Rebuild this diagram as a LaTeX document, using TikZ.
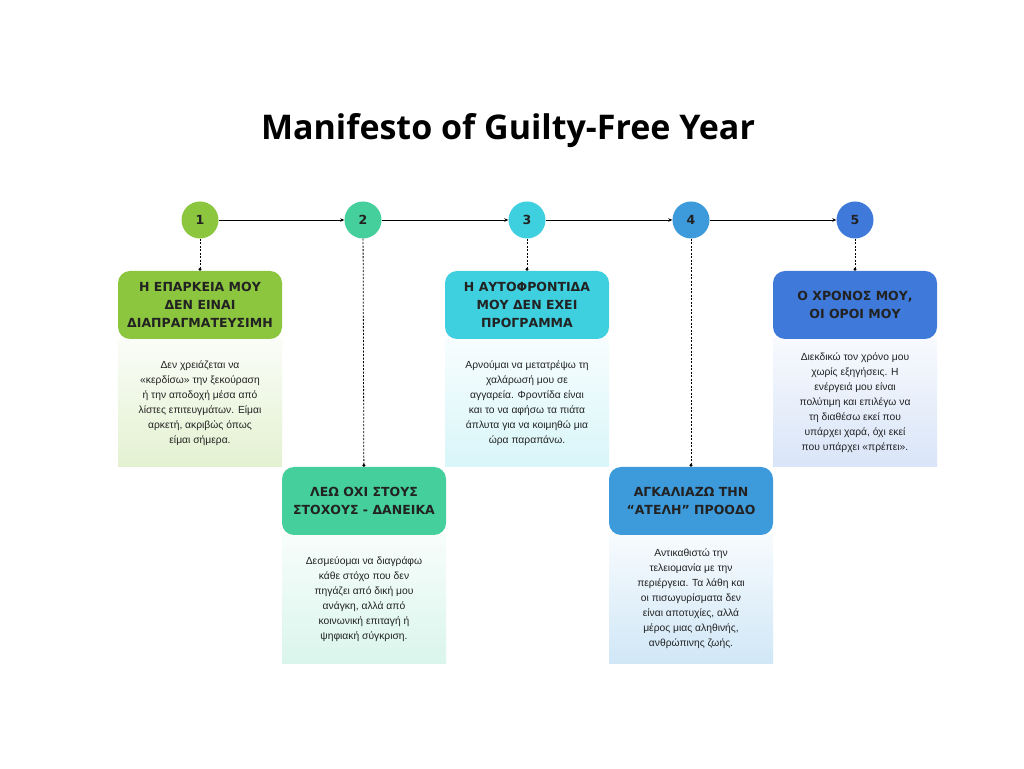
\documentclass[tikz,border=0pt]{standalone}
\usepackage{fontspec}
\usetikzlibrary{arrows.meta}
\setmainfont{Open Sans}
\newfontfamily\bodyfont{Liberation Sans}
\newfontfamily\headfont{DejaVu Sans}
\definecolor{greenA}{HTML}{8CC63F}
\definecolor{greenB}{HTML}{45CF9C}
\definecolor{cyanC}{HTML}{3FD0E0}
\definecolor{blueD}{HTML}{3D9BDC}
\definecolor{blueE}{HTML}{3F7ADB}
\definecolor{ink}{HTML}{222222}

\begin{document}
\begin{tikzpicture}[x=1pt, y=1pt,
    numdot/.style={circle, minimum size=37pt, inner sep=0pt, text=ink, font=\headfont\bfseries\fontsize{12.5}{14}\selectfont},
    headbox/.style={rectangle, rounded corners=12pt, minimum width=164pt, minimum height=68pt, inner sep=0pt, align=center, text=ink, font=\headfont\bfseries\fontsize{12.5}{18}\selectfont},
    textbox/.style={rectangle, minimum width=164pt, minimum height=128pt, inner sep=0pt, align=center, text=ink, shading angle=45, font=\bodyfont\fontsize{10.3}{15}\selectfont},
    flow/.style={-{Stealth[length=4pt, width=3.5pt]}, line width=0.8pt},
    drop/.style={dash pattern=on 2pt off 1.5pt, line width=0.8pt, -{Circle[length=3pt]}}]

    \useasboundingbox (0,0) rectangle (1024,768);
    \fill[white] (0,0) rectangle (1024,768);

    % title
    \node[font=\bfseries\fontsize{34}{40}\selectfont] (title) at (508,637) {Manifesto of Guilty-Free Year};

    % numbered steps
    \node[numdot, fill=greenA] (n1) at (200,548) {1};
    \node[numdot, fill=greenB] (n2) at (363,548) {2};
    \node[numdot, fill=cyanC] (n3) at (527,548) {3};
    \node[numdot, fill=blueD] (n4) at (691,548) {4};
    \node[numdot, fill=blueE] (n5) at (855,548) {5};

    % text panels
    \node[textbox, top color=greenA!4, bottom color=greenA!24] (t1) at (200,365)
        {Δεν χρειάζεται να\\«κερδίσω» την ξεκούραση\\ή την αποδοχή μέσα από\\λίστες επιτευγμάτων. Είμαι\\αρκετή, ακριβώς όπως\\είμαι σήμερα.};
    \node[textbox, top color=greenB!4, bottom color=greenB!20] (t2) at (364,169)
        {Δεσμεύομαι να διαγράφω\\κάθε στόχο που δεν\\πηγάζει από δική μου\\ανάγκη, αλλά από\\κοινωνική επιταγή ή\\ψηφιακή σύγκριση.};
    \node[textbox, top color=cyanC!4, bottom color=cyanC!20] (t3) at (527,365)
        {Αρνούμαι να μετατρέψω τη\\χαλάρωσή μου σε\\αγγαρεία. Φροντίδα είναι\\και το να αφήσω τα πιάτα\\άπλυτα για να κοιμηθώ μια\\ώρα παραπάνω.};
    \node[textbox, top color=blueD!4, bottom color=blueD!24] (t4) at (691,169)
        {Αντικαθιστώ την\\τελειομανία με την\\περιέργεια. Τα λάθη και\\οι πισωγυρίσματα δεν\\είναι αποτυχίες, αλλά\\μέρος μιας αληθινής,\\ανθρώπινης ζωής.};
    \node[textbox, top color=blueE!4, bottom color=blueE!20] (t5) at (855,365)
        {Διεκδικώ τον χρόνο μου\\χωρίς εξηγήσεις. Η\\ενέργειά μου είναι\\πολύτιμη και επιλέγω να\\τη διαθέσω εκεί που\\υπάρχει χαρά, όχι εκεί\\που υπάρχει «πρέπει».};

    % headings
    \node[headbox, fill=greenA] (h1) at (200,463) {Η ΕΠΑΡΚΕΙΑ ΜΟΥ\\ΔΕΝ ΕΙΝΑΙ\\ΔΙΑΠΡΑΓΜΑΤΕΥΣΙΜΗ};
    \node[headbox, fill=greenB] (h2) at (364,267) {ΛΕΩ ΟΧΙ ΣΤΟΥΣ\\ΣΤΟΧΟΥΣ - ΔΑΝΕΙΚΑ};
    \node[headbox, fill=cyanC] (h3) at (527,463) {Η ΑΥΤΟΦΡΟΝΤΙΔΑ\\ΜΟΥ ΔΕΝ ΕΧΕΙ\\ΠΡΟΓΡΑΜΜΑ};
    \node[headbox, fill=blueD] (h4) at (691,267) {ΑΓΚΑΛΙΑΖΩ ΤΗΝ\\“ΑΤΕΛΗ” ΠΡΟΟΔΟ};
    \node[headbox, fill=blueE] (h5) at (855,463) {Ο ΧΡΟΝΟΣ ΜΟΥ,\\ΟΙ ΟΡΟΙ ΜΟΥ};

    % timeline
    \draw[flow] (n1) -- (n2);
    \draw[flow] (n2) -- (n3);
    \draw[flow] (n3) -- (n4);
    \draw[flow] (n4) -- (n5);

    % drops to headings
    \draw[drop] (n1) -- (h1);
    \draw[drop] (n2) -- (h2);
    \draw[drop] (n3) -- (h3);
    \draw[drop] (n4) -- (h4);
    \draw[drop] (n5) -- (h5);
\end{tikzpicture}
\end{document}
